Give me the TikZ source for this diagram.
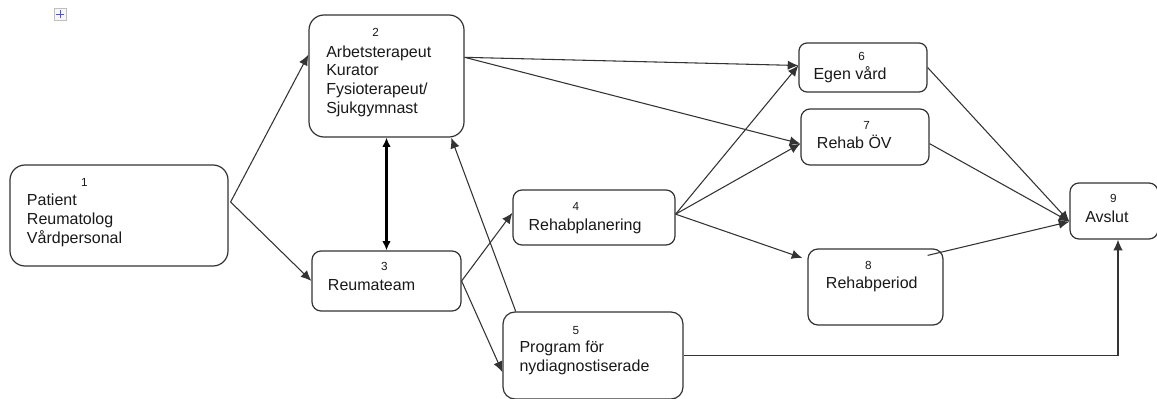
\documentclass[tikz,border=0pt]{standalone}
\usepackage{fontspec}
\setmainfont{Liberation Sans}
\usetikzlibrary{arrows.meta}
\def\px{0.75pt}
\tikzset{
  box/.style={draw=black!80, line width=0.9pt, inner sep=0pt, fill=white},
  txt/.style={anchor=base west, inner sep=0pt, font=\fontsize{12}{14}\selectfont, text=black!90},
  num/.style={anchor=base, inner sep=0pt, font=\fontsize{8.8}{10}\selectfont, text=black!90},
  conn/.style={draw=black!80, line width=0.8pt, -{Latex[length=8pt,width=7pt]}},
  dconn/.style={draw=black, line width=1.6pt, {Latex[length=7pt,width=6.5pt]}-{Latex[length=7pt,width=6.5pt]}},
}
\begin{document}
\begin{tikzpicture}[x=0.75pt,y=-0.75pt]
\useasboundingbox (0,0) rectangle (1157,399);
% move handle icon
\node[draw=black!25, fill=black!3, minimum width=12*\px, minimum height=12*\px, inner sep=0pt] (icon) at (60,14) {};
\draw[blue!70, line width=0.6pt] (icon.center) ++(-4,0) -- ++(8,0);
\draw[blue!70, line width=0.6pt] (icon.center) ++(0,-4) -- ++(0,8);

% boxes
\node[box, rounded corners=15*\px, minimum width=218*\px, minimum height=101*\px] (n1) at (119,215.5) {};
\node[box, rounded corners=15*\px, minimum width=155*\px, minimum height=122*\px] (n2) at (386.5,76) {};
\node[box, rounded corners=9*\px, minimum width=149*\px, minimum height=60*\px] (n3) at (386.5,281) {};
\node[box, rounded corners=9*\px, minimum width=162*\px, minimum height=55*\px] (n4) at (594,217.5) {};
\node[box, rounded corners=12*\px, minimum width=180*\px, minimum height=87*\px] (n5) at (593,355.5) {};
\node[box, rounded corners=8*\px, minimum width=128*\px, minimum height=49*\px] (n6) at (863,67.5) {};
\node[box, rounded corners=9*\px, minimum width=128*\px, minimum height=56*\px] (n7) at (865,137) {};
\node[box, rounded corners=10*\px, minimum width=135*\px, minimum height=76*\px] (n8) at (875.5,287) {};
\node[box, rounded corners=9*\px, minimum width=88*\px, minimum height=56*\px] (n9) at (1114,211) {};

% texts
\node[num] (d1) at (84.3,186.7) {1};
\node[txt] (t1a) at (26.7,206) {Patient};
\node[txt] (t1b) at (26.7,224.7) {Reumatolog};
\node[txt] (t1c) at (26.7,243.4) {Vårdpersonal};

\node[num] (d2) at (375.7,36.7) {2};
\node[txt] (t2a) at (326,57.3) {Arbetsterapeut};
\node[txt] (t2b) at (326,76) {Kurator};
\node[txt] (t2c) at (326,94.7) {Fysioterapeut/};
\node[txt] (t2d) at (326,113.4) {Sjukgymnast};

\node[num] (d3) at (384.3,271) {3};
\node[txt] (t3) at (327.7,290) {Reumateam};

\node[num] (d4) at (576,210.7) {4};
\node[txt] (t4) at (528.3,230) {Rehabplanering};

\node[num] (d5) at (576,334) {5};
\node[txt] (t5a) at (519.3,352.8) {Program för};
\node[txt] (t5b) at (519.3,371.5) {nydiagnostiserade};

\node[num] (d6) at (861.7,61) {6};
\node[txt] (t6) at (813.3,79.3) {Egen vård};

\node[num] (d7) at (866.7,129.3) {7};
\node[txt] (t7) at (816.7,148.3) {Rehab ÖV};

\node[num] (d8) at (868.3,269.3) {8};
\node[txt] (t8) at (825.7,288.3) {Rehabperiod};

\node[num] (d9) at (1113.3,202.7) {9};
\node[txt] (t9) at (1085,222.3) {Avslut};

% connectors
\draw[conn] ([shift={(2,-13.5)}]n1.east) -- ([yshift=16]n2.west);
\draw[conn] ([shift={(2,-13.5)}]n1.east) -- (n3.west);
\draw[dconn] (n2.south) -- (n3.north);
\draw[conn] ([xshift=10]n5.north west) -- ([xshift=48.5]n2.south);
\draw[conn] (n3.east) -- ([yshift=3.5]n4.west);
\draw[conn] (n3.east) -- ([yshift=-12.5]n5.west);
\draw[conn] ([yshift=2.5]n4.east) -- ([yshift=1.5]n6.west);
\draw[conn] ([yshift=2.5]n4.east) -- ([yshift=-5]n7.west);
\draw[conn] ([yshift=2.5]n4.east) -- ([shift={(-5,-29)}]n8.west);
\draw[conn] ([yshift=14]n2.east) -- ([yshift=1.5]n6.west);
\draw[conn] ([yshift=14]n2.east) -- ([yshift=-5]n7.west);
\draw[conn] (n6.east) -- ([yshift=-8]n9.west);
\draw[conn] ([yshift=-5]n7.east) -- ([yshift=-8]n9.west);
\draw[conn] ([shift={(-16,7)}]n8.north east) -- ([yshift=-8]n9.west);
\draw[conn] (n5.east) -| ([xshift=3]n9.south);
\end{tikzpicture}
\end{document}
